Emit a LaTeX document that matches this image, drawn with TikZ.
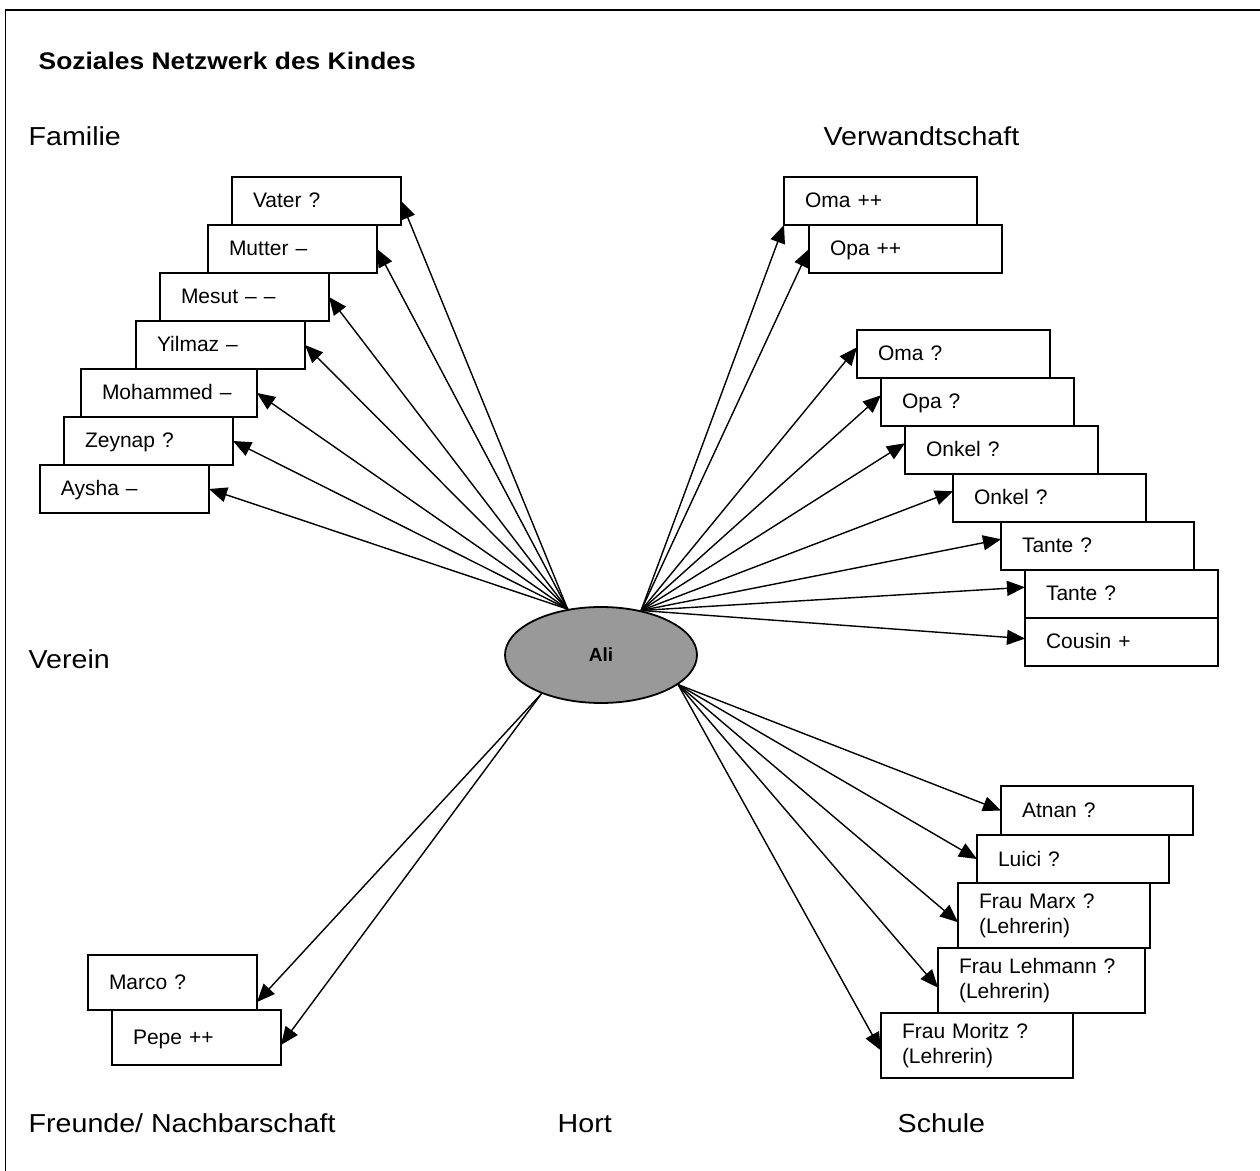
\documentclass[tikz,border=0pt]{standalone}
\usepackage{fontspec}
\setmainfont{Liberation Sans}
\newfontfamily\widefont[FakeStretch=1.1]{Liberation Sans}
\usetikzlibrary{positioning,shapes.geometric,arrows.meta}
\definecolor{aligray}{HTML}{999999}
\begin{document}
\begin{tikzpicture}[x=0.5pt, y=-0.5pt, ->, >={Triangle[length=9pt,width=7.5pt]}, line width=.7pt,
	box/.style={draw, -, line width=.9pt, outer sep=0pt, inner xsep=10.5pt, inner ysep=0pt, minimum height=24pt, align=left, text width=#1, text height=9pt, text depth=2pt, font=\fontsize{10.5}{12.5}\selectfont},
	box/.default=63.5pt,
	box2/.style={draw, -, line width=.9pt, outer sep=0pt, inner xsep=10.5pt, inner ysep=0pt, minimum height=32.5pt, align=left, text width=#1, font=\fontsize{10.5}{12.5}\selectfont},
	box2/.default=75pt,
	lbl/.style={anchor=base west, inner sep=0pt, font=\widefont\fontsize{13}{15}\selectfont}]
		\useasboundingbox (0,0) rectangle (1260,1171);
		\draw[-, line width=.9pt] (5.5,1180) -- (5.5,10) -- (1270,10);
		\node (titel) [lbl, font=\widefont\bfseries\fontsize{12}{14}\selectfont] at (38,70) {Soziales Netzwerk des Kindes};
		\node (familie) [lbl] at (28,146) {Familie};
		\node (verwandt) [lbl] at (823,146) {Verwandtschaft};
		\node (verein) [lbl] at (28,669) {Verein};
		\node (freunde) [lbl] at (28,1132) {Freunde/ Nachbarschaft};
		\node (hort) [lbl] at (557,1132) {Hort};
		\node (schule) [lbl] at (897,1132) {Schule};
		\node (ali) [ellipse, draw, -, line width=.9pt, fill=aligray, minimum width=96pt, minimum height=48pt, inner sep=0pt, font=\bfseries\fontsize{9.5}{11}\selectfont] at (601,655) {Ali};
		\node (vater) [box, anchor=north west] at (232,177) {Vater ?};
		\node (mutter) [box, below right=0pt and -12pt of vater.south west] {Mutter --};
		\node (mesut) [box, below right=0pt and -24pt of mutter.south west] {Mesut -- --};
		\node (yilmaz) [box, below right=0pt and -12pt of mesut.south west] {Yilmaz --};
		\node (mohammed) [box=67pt, below right=0pt and -27.5pt of yilmaz.south west] {Mohammed --};
		\node (zeynap) [box, below right=0pt and -8.5pt of mohammed.south west] {Zeynap ?};
		\node (aysha) [box, below right=0pt and -12pt of zeynap.south west] {Aysha --};
		\node (omaA) [box=75.5pt, anchor=north west] at (784,177) {Oma ++};
		\node (opaA) [box=75.5pt, below right=0pt and 12.5pt of omaA.south west] {Opa ++};
		\node (omaB) [box=75.5pt, anchor=north west] at (857,330) {Oma ?};
		\node (opaB) [box=75.5pt, below right=0pt and 12pt of omaB.south west] {Opa ?};
		\node (onkelA) [box=75.5pt, below right=0pt and 12pt of opaB.south west] {Onkel ?};
		\node (onkelB) [box=75.5pt, below right=0pt and 24pt of onkelA.south west] {Onkel ?};
		\node (tanteA) [box=75.5pt, below right=0pt and 24pt of onkelB.south west] {Tante ?};
		\node (tanteB) [box=75.5pt, below right=0pt and 12pt of tanteA.south west] {Tante ?};
		\node (cousin) [box=75.5pt, below right=0pt and 0pt of tanteB.south west] {Cousin +};
		\node (atnan) [box=75pt, anchor=north west, minimum height=24.5pt] at (1001,786) {Atnan ?};
		\node (luici) [box=75pt, below right=0pt and -12pt of atnan.south west] {Luici ?};
		\node (marx) [box2, below right=0pt and -9.5pt of luici.south west] {Frau Marx ?\\(Lehrerin)};
		\node (lehmann) [box2=82.5pt, below right=0pt and -10pt of marx.south west] {Frau Lehmann ?\\(Lehrerin)};
		\node (moritz) [box2, below right=0pt and -28.5pt of lehmann.south west] {Frau Moritz ?\\(Lehrerin)};
		\node (marco) [box, anchor=north west, minimum height=27.5pt] at (88,955) {Marco ?};
		\node (pepe) [box, minimum height=27.5pt, below right=0pt and 12pt of marco.south west] {Pepe ++};
		\draw (ali.126) -> (vater.east);
		\draw (ali.126) -> (mutter.east);
		\draw (ali.126) -> (mesut.east);
		\draw (ali.126) -> (yilmaz.east);
		\draw (ali.126) -> (mohammed.east);
		\draw (ali.126) -> (zeynap.east);
		\draw (ali.126) -> (aysha.east);
		\draw (ali.48) -> (omaA.south west);
		\draw (ali.48) -> (opaA.west);
		\draw (ali.48) -> (omaB.176);
		\draw (ali.48) -> (opaB.176);
		\draw (ali.48) -> (onkelA.176);
		\draw (ali.48) -> (onkelB.176);
		\draw (ali.48) -> (tanteA.176);
		\draw (ali.48) -> (tanteB.176);
		\draw (ali.48) -> (cousin.178);
		\draw (ali.-21) -> (atnan.west);
		\draw (ali.-21) -> (luici.west);
		\draw (ali.-21) -> (marx.184);
		\draw (ali.-21) -> (lehmann.184);
		\draw (ali.-21) -> (moritz.183);
		\draw (ali.213) -> (marco.-13);
		\draw (ali.213) -> (pepe.-5);
\end{tikzpicture}
\end{document}
